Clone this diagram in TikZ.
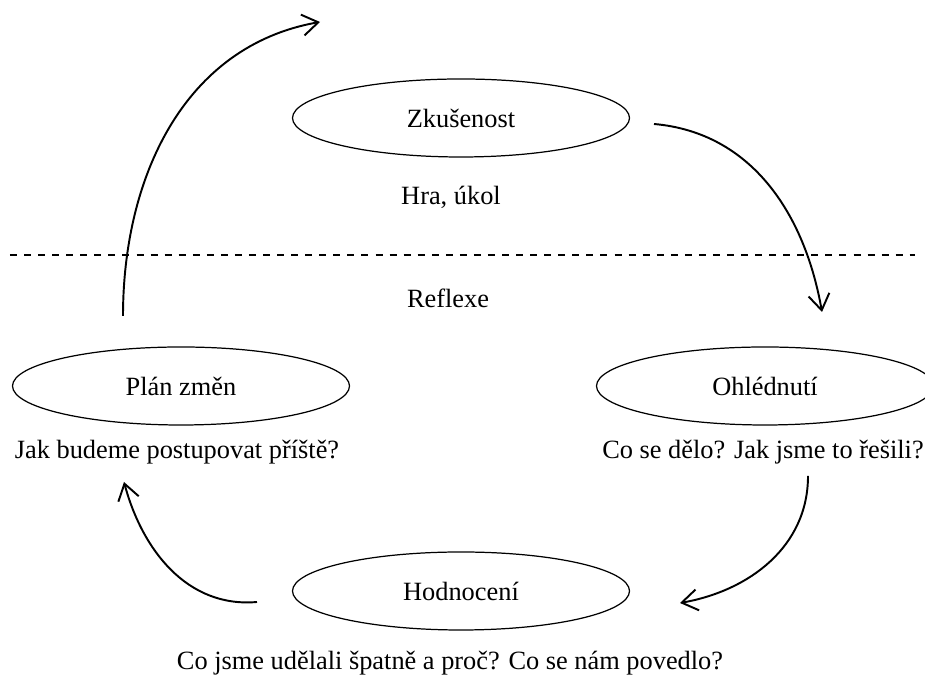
\documentclass[tikz,border=0pt]{standalone}
\usepackage{fontspec}
\setmainfont{Liberation Serif}
\usetikzlibrary{positioning,shapes,arrows.meta}

\begin{document}
\begin{tikzpicture}[
	faze/.style={draw, ellipse, line width=0.7pt, minimum width=\ew, minimum height=\eh, inner sep=0pt},
	popis/.style={inner sep=0pt},
	sipka/.style={line width=1.1pt, -{Straight Barb[length=9pt,width=12pt]}},
	every node/.style={font=\fontsize{15}{18}\selectfont}
	]
	
	\def \ew {6.74cm} % ellipse width
	\def \eh {1.56cm} % ellipse height
	
	\useasboundingbox (0,0) rectangle (18.5,13.52);
	
	% the four phases
	\node[faze] (zk) at (9.22,11.16) {Zkušenost};
	\node[faze] (oh) at (15.30,5.80) {Ohlédnutí};
	\node[faze] (ho) at (9.22,1.70) {Hodnocení};
	\node[faze] (pl) at (3.62,5.80) {Plán změn};
	
	% texts under the phases
	\node[popis] (hra) at (9.02,9.58) {Hra, úkol};
	\node[popis] (refl) at (8.96,7.56) {Reflexe};
	\node[popis] (co) at (15.26,4.48) {Co se dělo? Jak jsme to řešili?};
	\node[popis] (jak) at (3.54,4.48) {Jak budeme postupovat příště?};
	\node[popis] (hod) at (9.00,0.26) {Co jsme udělali špatně a proč? Co se nám povedlo?};
	
	% dashed line
	\coordinate (l1) at (0.2,8.42);
	\coordinate (l2) at (18.3,8.42);
	\draw[line width=0.75pt, dash pattern=on 4pt off 4pt] (l1) -- (l2);
	
	% arrow ends
	\coordinate (a1) at (2.46,7.20);
	\coordinate (b1) at (6.40,13.08);
	\coordinate (a2) at (13.08,11.04);
	\coordinate (b2) at (16.44,7.28);
	\coordinate (a3) at (16.16,4.00);
	\coordinate (b3) at (13.60,1.46);
	\coordinate (a4) at (5.14,1.48);
	\coordinate (b4) at (2.48,3.88);
	
	\draw[sipka] (a1) to[out=90, in=190] (b1);
	\draw[sipka] (a2) to[out=-5, in=100] (b2);
	\draw[sipka] (a3) to[out=-90, in=10] (b3);
	\draw[sipka] (a4) to[out=185, in=-75] (b4);
	
\end{tikzpicture}
\end{document}
